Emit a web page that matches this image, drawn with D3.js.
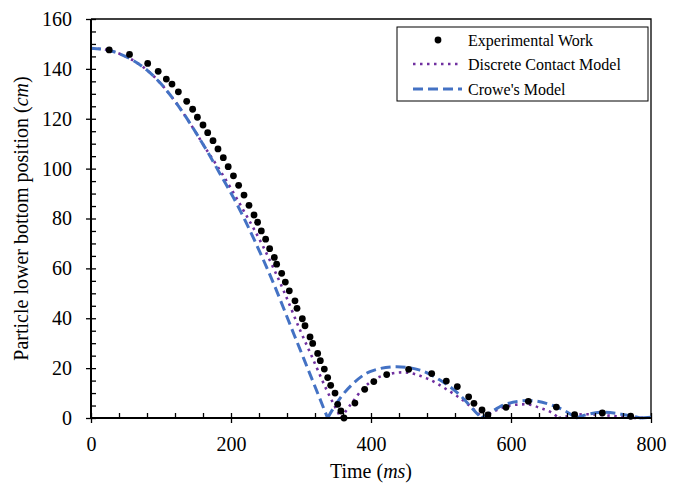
<!DOCTYPE html>
<html>
<head>
<meta charset="utf-8">
<script src="https://cdn.jsdelivr.net/npm/d3@7"></script>
<style>
  body { margin: 0; background: #fff; }
  svg text { font-family: "Liberation Serif", "Times New Roman", serif; fill: #000; }
</style>
</head>
<body>
<svg id="chart" width="685" height="487" viewBox="0 0 685 487"></svg>
<script>
// experimental points (ms, cm)
const expTime = [26, 55, 81, 96, 107.6, 115.7, 124.8, 136.7, 145.2, 152, 160, 166.7, 174.3, 181.4, 189, 196,
  203.5, 210.9, 218.6, 225.7, 232.9, 238, 243.3, 249.5, 255.2, 261.9, 265.2, 272.4, 277.6, 283.3, 291.4, 294.3,
  301.9, 305.7, 312.9, 316.7, 323.8, 327.6, 333.3, 338.1, 342.4, 348.6, 352.4, 357, 361.4,
  377, 391, 404, 422.4, 453.8, 486.7, 507.6, 523.3, 539.5, 547.1, 558.6, 567,
  592.9, 624.8, 664.8, 690.9, 730.5, 771]
const expPos = [147.6, 145.8, 142.2, 139, 135.9, 133.9, 130.8, 127, 123.8, 120.6, 117.5, 114.4, 111.2, 107.9, 104.4, 100.8,
  97.1, 93.3, 89.4, 85.3, 81.4, 78.5, 75, 71.7, 67.9, 64.4, 61.7, 58, 54.5, 51, 47, 44,
  39.8, 37, 32.5, 29.9, 25.9, 23, 19.6, 16.2, 13.1, 10, 5.5, 2.8, 0,
  6, 11.5, 14.6, 17.4, 19.5, 17.8, 14.8, 12.6, 8.5, 5.9, 3.2, 1.2,
  4.3, 6.7, 4.4, 1.3, 2, 0.7]

// discrete contact model
const dcmTime = [0, 26, 55, 80, 100, 120, 143, 164, 184, 217.6, 246, 274.8, 298.6, 317.6, 336.7, 357,
  372, 389, 413, 446, 479.5, 508, 536.7, 560,
  578, 600, 621, 643, 659, 668,
  690, 705, 725, 750, 775, 800]
const dcmPos = [148.3, 147.4, 144.2, 139.5, 134, 127, 117.5, 108, 99.4, 83.4, 68.7, 51.3, 35.3, 23.3, 11.2, 0,
  5.8, 11.9, 16.6, 18.3, 15.9, 11.5, 5.9, 0,
  3, 5.1, 5.5, 3.9, 2, 0,
  1.1, 1.5, 1.3, 0.7, 0, 0.2]

// Crowe's model
const croweTime = [0, 26, 55, 80, 100, 120, 143, 164, 186, 208, 234, 260, 290, 318, 338,
  355.7, 374.8, 398.6, 436.7, 470, 498.6, 527, 551, 558,
  572, 593, 625, 660, 680, 693,
  710, 730, 758, 786, 800]
const crowePos = [148.3, 147.4, 144.2, 139.5, 134, 127, 117.5, 107.9, 97.1, 86, 71, 54.5, 33.5, 14, 0,
  7.9, 13.9, 18.6, 20.6, 19.2, 15.2, 9.2, 1.9, 0,
  2.5, 5.6, 7, 5, 2.4, 0,
  1.5, 2.3, 1.5, 0, 0.3]

const xMajor = [0, 200, 400, 600, 800]
const yMajor = [0, 20, 40, 60, 80, 100, 120, 140, 160]

const seriesNames = ["Experimental Work", "Discrete Contact Model", "Crowe's Model"]

const svg = d3.select("#chart")
const mLeft = 91, mRight = 651, mTop = 19, mBottom = 418

const x = d3.scaleLinear().domain([0, 800]).range([mLeft, mRight])
const y = d3.scaleLinear().domain([0, 160]).range([mBottom, mTop])

// frame top / right
svg.append("path")
  .attr("d", `M${mLeft},${mTop}H${mRight}V${mBottom}`)
  .attr("fill", "none").attr("stroke", "#000").attr("stroke-width", 1.3)

// split a curve where it touches zero, so the bounces keep a sharp corner
function segments(ts, vs) {
  let out = [], cur = []
  ts.forEach((t, i) => {
    cur.push([t, vs[i]])
    if (vs[i] === 0 && cur.length > 1 && i < ts.length - 1) {
      out.push(cur)
      cur = [[t, vs[i]]]
    }
  })
  if (cur.length > 1) out.push(cur)
  return out
}

const line = d3.line()
  .x(d => x(d[0]))
  .y(d => y(d[1]))
  .curve(d3.curveMonotoneX)

const plot = svg.append("g")

plot.append("path")
  .attr("d", segments(dcmTime, dcmPos).map(s => line(s)).join(""))
  .attr("fill", "none")
  .attr("stroke", "#7030A0")
  .attr("stroke-width", 2.6)
  .attr("stroke-dasharray", "2.5,4.5")

plot.append("path")
  .attr("d", segments(croweTime, crowePos).map(s => line(s)).join(""))
  .attr("fill", "none")
  .attr("stroke", "#4472C4")
  .attr("stroke-width", 3)
  .attr("stroke-dasharray", "10,5")

plot.selectAll(".pt")
  .data(expTime)
  .enter()
  .append("circle")
  .attr("class", "pt")
  .attr("cx", d => x(d))
  .attr("cy", (d, i) => y(expPos[i]))
  .attr("r", 3.4)
  .attr("fill", "#000")

// axes
const xAxis = svg.append("g")
  .attr("transform", `translate(0,${mBottom})`)
  .call(d3.axisBottom(x).tickValues(xMajor).tickSize(5).tickPadding(14).tickFormat(d3.format("d")))
xAxis.selectAll(".tick line").attr("y1", -5)
xAxis.call(g => g.append("g").call(d3.axisBottom(x).tickValues(d3.range(40, 800, 40).filter(v => v % 200)).tickSize(-5).tickFormat("")))

const yAxis = svg.append("g")
  .attr("transform", `translate(${mLeft},0)`)
  .call(d3.axisLeft(y).tickValues(yMajor).tickSize(5).tickPadding(14))
yAxis.selectAll(".tick line").attr("x1", 5)
yAxis.call(g => g.append("g").call(d3.axisLeft(y).tickValues(d3.range(5, 160, 5).filter(v => v % 20)).tickSize(-5).tickFormat("")))

svg.selectAll(".domain").attr("stroke", "none")
svg.selectAll(".tick line").attr("stroke", "#000").attr("stroke-width", 1.3)
svg.selectAll(".tick text").style("font-size", "20px").attr("fill", "#000")
  .style("font-family", "'Liberation Serif', serif")

svg.append("path")
  .attr("d", `M${mLeft},${mTop}V${mBottom}H${mRight}`)
  .attr("fill", "none").attr("stroke", "#000").attr("stroke-width", 2)

// axis titles
const xt = svg.append("text")
  .attr("x", (mLeft + mRight) / 2).attr("y", 478)
  .attr("text-anchor", "middle").style("font-size", "20px")
xt.append("tspan").text("Time (")
xt.append("tspan").attr("font-style", "italic").text("ms")
xt.append("tspan").text(")")

const yt = svg.append("text")
  .attr("transform", `translate(28,${(mTop + mBottom) / 2}) rotate(-90)`)
  .attr("text-anchor", "middle").style("font-size", "20px")
yt.append("tspan").text("Particle lower bottom position (")
yt.append("tspan").attr("font-style", "italic").text("cm")
yt.append("tspan").text(")")

// legend
const lg = svg.append("g")
lg.append("rect")
  .attr("x", 397).attr("y", 27).attr("width", 251).attr("height", 74)
  .attr("fill", "#fff").attr("stroke", "#000").attr("stroke-width", 1)
const rowsY = [40, 64, 89]
lg.append("circle").attr("cx", 438).attr("cy", rowsY[0]).attr("r", 3.4).attr("fill", "#000")
lg.append("line").attr("x1", 413).attr("x2", 462).attr("y1", rowsY[1]).attr("y2", rowsY[1])
  .attr("stroke", "#7030A0").attr("stroke-width", 2.6).attr("stroke-dasharray", "2.5,4.5")
lg.append("line").attr("x1", 413).attr("x2", 462).attr("y1", rowsY[2]).attr("y2", rowsY[2])
  .attr("stroke", "#4472C4").attr("stroke-width", 3).attr("stroke-dasharray", "10,5")
lg.selectAll(".lt")
  .data(seriesNames)
  .enter()
  .append("text")
  .attr("class", "lt")
  .attr("x", 468)
  .attr("y", (d, i) => rowsY[i] + 5.5)
  .style("font-size", "16px")
  .text(d => d)
</script>
</body>
</html>
